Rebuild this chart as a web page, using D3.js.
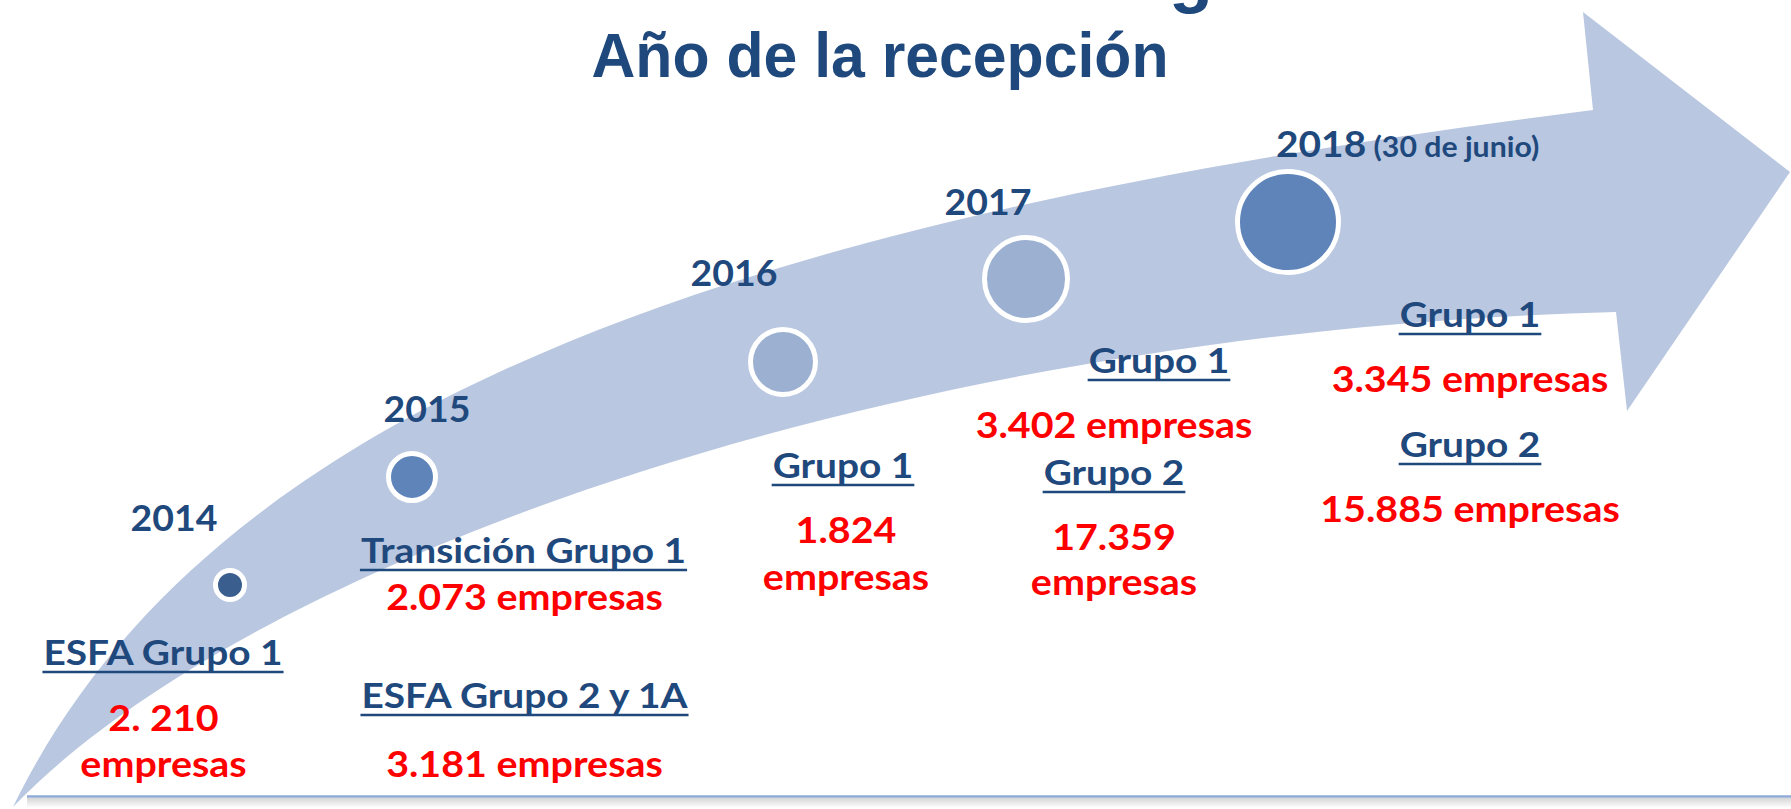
<!DOCTYPE html>
<html>
<head>
<meta charset="utf-8">
<script src="https://cdn.jsdelivr.net/npm/d3@7"></script>
<style>
  body { margin: 0; background: #fff; }
  svg { display: block; }
</style>
</head>
<body>
<svg width="1791" height="809"></svg>
<script>
// ---- data ----
const titleText = "Año de la recepción";
const years = ["2014", "2015", "2016", "2017", "2018"];
const yearNotes = ["", "", "", "", "(30 de junio)"];

const entryYear  = ["2014", "2015", "2015", "2016", "2017", "2017", "2018", "2018"];
const entryGroup = ["ESFA Grupo 1", "Transición Grupo 1", "ESFA Grupo 2 y 1A", "Grupo 1", "Grupo 1", "Grupo 2", "Grupo 1", "Grupo 2"];
const entryCount = ["2. 210", "2.073", "3.181", "1.824", "3.402", "17.359", "3.345", "15.885"];
const countUnit = "empresas";

// ---- layout ----
const W = 1791, H = 809;
const blue = "#1F497D", red = "#FF0000", bandColor = "#B9C7E0";
const labelFont = "Lato, 'Open Sans', sans-serif";

const circleX = d3.scaleOrdinal().domain(years).range([230, 412, 783, 1026, 1288]);
const circleY = d3.scaleOrdinal().domain(years).range([585, 477, 362, 279, 222]);
const circleR = d3.scaleLinear().domain([0, years.length - 1]).range([17, 53]);
const circleFill = d3.scaleOrdinal().domain(years)
  .range(["#3A5F8E", "#5F84BA", "#9CB0D1", "#9CB0D1", "#5F84BA"]);

// year label anchor (x, baseline); the 2018 one starts at x because of its note
const yearPos = d3.scaleOrdinal().domain(years)
  .range([[174, 531], [427, 422], [734, 286], [988, 215], [1276, 157]]);

// where each block of text sits: group label centre/baseline, count centre/baselines
const entryLayout = [
  { x: 163,   y: 665, cx: 163.5, cy: [731, 777] },
  { x: 523.5, y: 563, cx: 524.5, cy: [610] },
  { x: 524.5, y: 708, cx: 524.5, cy: [777] },
  { x: 843,   y: 478, cx: 846,   cy: [543, 590] },
  { x: 1159,  y: 373, cx: 1114,  cy: [438] },
  { x: 1114,  y: 485, cx: 1114,  cy: [550, 595] },
  { x: 1470,  y: 327, cx: 1470,  cy: [392] },
  { x: 1470,  y: 457, cx: 1470,  cy: [522] },
];

const entries = entryGroup.map((g, i) => ({
  year: entryYear[i],
  group: g,
  count: entryCount[i],
  ...entryLayout[i],
}));

// the slide text is a bit wider than Lato, so widen it a little
function widen(sel, k) {
  sel.each(function () {
    const len = this.getComputedTextLength();
    d3.select(this)
      .attr("textLength", len * k)
      .attr("lengthAdjust", "spacingAndGlyphs");
  });
}

const svg = d3.select("svg");

// shadow gradient for the bottom rule
const defs = svg.append("defs");
const grad = defs.append("linearGradient")
  .attr("id", "shadow").attr("x1", 0).attr("y1", 0).attr("x2", 0).attr("y2", 1);
grad.append("stop").attr("offset", "0%").attr("stop-color", "#000").attr("stop-opacity", 0.16);
grad.append("stop").attr("offset", "100%").attr("stop-color", "#000").attr("stop-opacity", 0);

// ---- big curved arrow ----
const p = d3.path();
p.moveTo(13, 807);
p.bezierCurveTo(220, 380, 800, 210, 1593, 110);   // upper edge
p.lineTo(1583, 12);
p.lineTo(1790, 172);
p.lineTo(1627, 411);
p.lineTo(1616, 312);
p.bezierCurveTo(900, 330, 250, 560, 13, 807);     // lower edge back to tail
p.closePath();

svg.append("path")
  .attr("d", p.toString())
  .attr("fill", bandColor);

// bottom rule + soft shadow
svg.append("rect")
  .attr("x", 27).attr("y", 798).attr("width", W - 27).attr("height", 10)
  .attr("fill", "url(#shadow)");
svg.append("line")
  .attr("x1", 27).attr("x2", W).attr("y1", 796.5).attr("y2", 796.5)
  .attr("stroke", "#8FAAD6").attr("stroke-width", 2.5);

// ---- title (the line above it is cut off by the slide edge) ----
svg.append("text")
  .attr("x", 1191).attr("y", -1)
  .attr("text-anchor", "middle")
  .attr("font-family", "'Liberation Sans', Arial, sans-serif")
  .attr("font-weight", 700).attr("font-size", 72)
  .attr("fill", blue)
  .text("g");

svg.append("text")
  .attr("x", 880).attr("y", 77)
  .attr("text-anchor", "middle")
  .attr("font-family", "'Liberation Sans', Arial, sans-serif")
  .attr("font-weight", 700).attr("font-size", 63)
  .attr("textLength", 577).attr("lengthAdjust", "spacingAndGlyphs")
  .attr("fill", blue)
  .text(titleText);

// ---- circles ----
svg.selectAll(".dot")
  .data(years)
  .enter()
  .append("circle")
  .classed("dot", true)
  .attr("cx", d => circleX(d))
  .attr("cy", d => circleY(d))
  .attr("r", (d, i) => circleR(i) - 2.5)
  .attr("fill", d => circleFill(d))
  .attr("stroke", "#fff")
  .attr("stroke-width", 5);

// ---- year labels ----
const yearText = svg.selectAll(".year")
  .data(years)
  .enter()
  .append("text")
  .classed("year", true)
  .attr("x", d => yearPos(d)[0])
  .attr("y", d => yearPos(d)[1])
  .attr("text-anchor", (d, i) => yearNotes[i] ? "start" : "middle")
  .attr("font-family", labelFont)
  .attr("font-weight", 700)
  .attr("fill", blue);

yearText.append("tspan")
  .attr("font-size", 36)
  .text(d => d);
yearText.filter((d, i) => yearNotes[i])
  .append("tspan")
  .attr("font-size", 28)
  .text(d => " " + yearNotes[years.indexOf(d)]);

widen(yearText.filter((d, i) => !yearNotes[i]), 1.04);
widen(yearText.filter((d, i) => yearNotes[i]), 1.08);

// ---- group labels (underlined) ----
const groups = svg.selectAll(".group")
  .data(entries)
  .enter()
  .append("text")
  .classed("group", true)
  .attr("x", d => d.x)
  .attr("y", d => d.y)
  .attr("text-anchor", "middle")
  .attr("font-family", labelFont)
  .attr("font-weight", 700)
  .attr("font-size", 35)
  .attr("fill", blue)
  .text(d => d.group);

widen(groups, 1.11);

groups.each(function (d) {
  const len = +this.getAttribute("textLength");
  svg.append("line")
    .attr("x1", d.x - len / 2 - 1).attr("x2", d.x + len / 2 + 1)
    .attr("y1", d.y + 7).attr("y2", d.y + 7)
    .attr("stroke", blue).attr("stroke-width", 2.5);
});

// ---- company counts ----
entries.forEach(d => {
  const lines = d.cy.length > 1 ? [d.count, countUnit] : [d.count + " " + countUnit];
  const t = svg.selectAll(null)
    .data(lines)
    .enter()
    .append("text")
    .attr("x", d.cx)
    .attr("y", (l, i) => d.cy[i])
    .attr("text-anchor", "middle")
    .attr("font-family", labelFont)
    .attr("font-weight", 700)
    .attr("font-size", 36.5)
    .attr("fill", red)
    .text(l => l);
  widen(t, 1.08);
});
</script>
</body>
</html>
